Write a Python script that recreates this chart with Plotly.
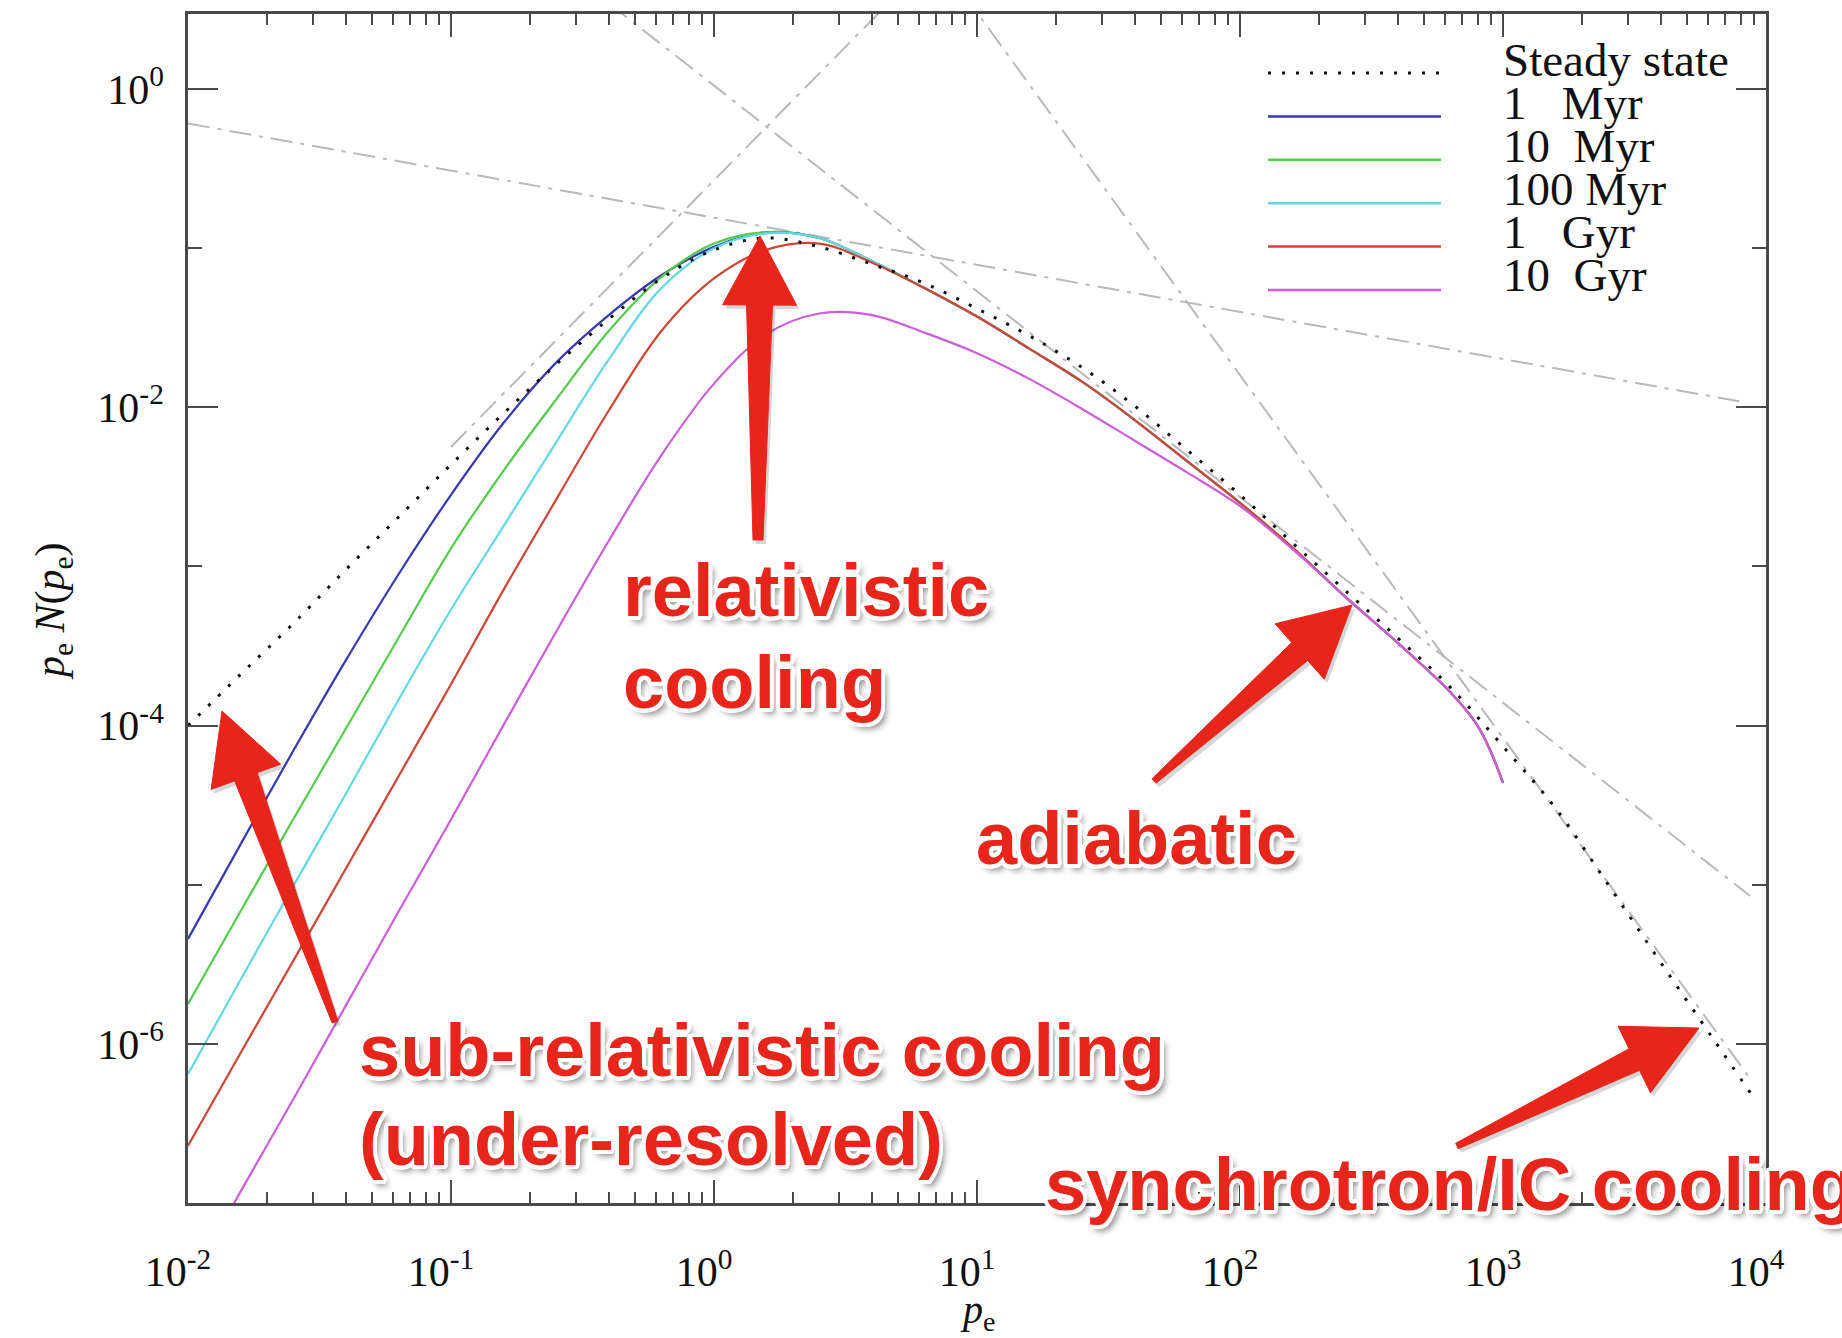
import math
import plotly.graph_objects as go

# ---------------------------------------------------------------------------
# Electron momentum spectra p_e N(p_e): steady state and time evolution
# ---------------------------------------------------------------------------

# momentum grid of the time-dependent runs
p = [0.01, 0.0158, 0.0251, 0.0398, 0.0631, 0.1, 0.158, 0.251, 0.398, 0.631,
     1.0, 1.58, 2.51, 3.98, 6.31, 10.0, 15.8, 25.1, 39.8, 63.1,
     100.0, 158.0, 251.0, 398.0, 631.0, 794.0, 891.0, 1000.0]

spec_1myr = [4.57e-6, 1.78e-5, 6.92e-5, 2.57e-4, 8.91e-4, 2.82e-3, 7.94e-3, 1.91e-2, 3.80e-2, 6.76e-2,
             0.102, 0.126, 0.116, 0.0832, 0.0562, 0.0372, 0.0234, 0.0145, 8.32e-3, 4.57e-3,
             2.51e-3, 1.32e-3, 6.46e-4, 3.31e-4, 1.62e-4, 1.02e-4, 7.08e-5, 4.37e-5]

spec_10myr = [1.78e-6, 6.76e-6, 2.57e-5, 9.55e-5, 3.55e-4, 1.30e-3, 3.98e-3, 1.12e-2, 3.02e-2, 6.61e-2,
              0.107, 0.126, 0.116, 0.0832, 0.0562, 0.0372, 0.0234, 0.0145, 8.32e-3, 4.57e-3,
              2.51e-3, 1.32e-3, 6.46e-4, 3.31e-4, 1.62e-4, 1.02e-4, 7.08e-5, 4.37e-5]

spec_100myr = [6.46e-7, 2.51e-6, 9.77e-6, 3.72e-5, 1.45e-4, 5.37e-4, 1.78e-3, 6.03e-3, 2.00e-2, 5.62e-2,
               0.100, 0.124, 0.116, 0.0832, 0.0562, 0.0372, 0.0234, 0.0145, 8.32e-3, 4.57e-3,
               2.51e-3, 1.32e-3, 6.46e-4, 3.31e-4, 1.62e-4, 1.02e-4, 7.08e-5, 4.37e-5]

spec_1gyr = [2.29e-7, 8.71e-7, 3.31e-6, 1.26e-5, 4.79e-5, 1.82e-4, 7.08e-4, 2.63e-3, 9.55e-3, 3.02e-2,
             6.46e-2, 0.0977, 0.107, 0.0813, 0.0562, 0.0372, 0.0234, 0.0145, 8.32e-3, 4.57e-3,
             2.51e-3, 1.32e-3, 6.46e-4, 3.31e-4, 1.62e-4, 1.02e-4, 7.08e-5, 4.37e-5]

spec_10gyr = [3.02e-8, 1.17e-7, 4.47e-7, 1.74e-6, 6.76e-6, 2.57e-5, 1.00e-4, 3.89e-4, 1.45e-3, 5.01e-3,
              0.0141, 0.0288, 0.0389, 0.0380, 0.0295, 0.0219, 0.0151, 9.77e-3, 6.17e-3, 3.89e-3,
              2.40e-3, 1.29e-3, 6.46e-4, 3.31e-4, 1.62e-4, 1.02e-4, 7.08e-5, 4.37e-5]

# steady-state solution
p_ss = [0.01, 0.0158, 0.0251, 0.0398, 0.0631, 0.1, 0.158, 0.251, 0.398, 0.631,
        1.0, 1.58, 2.51, 3.98, 6.31, 10.0, 15.8, 25.1, 39.8, 63.1,
        100.0, 158.0, 251.0, 398.0, 631.0, 1000.0, 1585.0, 2512.0, 3981.0, 6310.0, 8913.0]
steady = [1.00e-4, 2.09e-4, 4.37e-4, 9.55e-4, 2.04e-3, 4.37e-3, 9.12e-3, 1.86e-2, 3.59e-2, 6.46e-2,
          0.0977, 0.116, 0.102, 0.0794, 0.0603, 0.0417, 0.0282, 0.0178, 0.0102, 5.37e-3,
          2.82e-3, 1.41e-3, 7.08e-4, 3.55e-4, 1.74e-4, 7.41e-5, 3.02e-5, 1.00e-5, 3.24e-6, 1.07e-6, 4.68e-7]

# power-law asymptotes of the individual loss regimes (end points)
asym_flat_p = [0.01, 7940.0]
asym_flat = [0.608, 0.0109]
asym_sub_p = [0.1, 5.0]
asym_sub = [5.64e-3, 3.97]
asym_rel_p = [0.4, 8700.0]
asym_rel = [3.44, 8.5e-6]
asym_syn_p = [8.9, 8900.0]
asym_syn = [3.96, 5.75e-7]

series_names = ["1   Myr", "10  Myr", "100 Myr", "1   Gyr", "10  Gyr"]
series_values = [spec_1myr, spec_10myr, spec_100myr, spec_1gyr, spec_10gyr]
series_colors = ["#3838b4", "#52cc4a", "#62d9e2", "#cf4535", "#cc5ed8"]

x_ticks = [0.01, 0.1, 1, 10, 100, 1000, 10000]
x_ticktext = ["10<sup>-2</sup>", "10<sup>-1</sup>", "10<sup>0</sup>", "10<sup>1</sup>",
              "10<sup>2</sup>", "10<sup>3</sup>", "10<sup>4</sup>"]
y_ticks = [1e-6, 1e-4, 1e-2, 1]
y_ticktext = ["10<sup>-6</sup>", "10<sup>-4</sup>", "10<sup>-2</sup>", "10<sup>0</sup>"]
y_minor = [1e-7, 1e-5, 1e-3, 1e-1]
x_minor = [m * 10.0 ** e for e in range(-2, 4) for m in range(2, 10)]

# ---------------------------------------------------------------------------
W, H = 1842, 1338
L, R, T, B = 188, 1766, 14, 1203      # plot area in pixels


def px(x):
    return (x - L) / (R - L)


def py(y):
    return (B - y) / (B - T)


SERIF = "Liberation Serif, Times New Roman, serif"
AXIS_COL = "#4a4a4a"
GREY = "#b9b9b9"
RED = "#e8251b"
DASHDOT = "22px,8px,4px,8px"
DOTS = "3px,11px"

fig = go.Figure()

for xs, ys in [(asym_flat_p, asym_flat), (asym_sub_p, asym_sub),
               (asym_rel_p, asym_rel), (asym_syn_p, asym_syn)]:
    fig.add_trace(go.Scatter(x=xs, y=ys, mode="lines",
                             line=dict(color=GREY, width=2, dash=DASHDOT),
                             hoverinfo="skip"))

for name, vals, col in zip(series_names, series_values, series_colors):
    fig.add_trace(go.Scatter(x=p, y=vals, mode="lines", name=name,
                             line=dict(color=col, width=2.2, shape="spline", smoothing=1.0)))

fig.add_trace(go.Scatter(x=p_ss, y=steady, mode="lines", name="Steady state",
                         line=dict(color="#111111", width=3, dash=DOTS,
                                   shape="spline", smoothing=1.0)))

axis_common = dict(type="log", showline=True, linecolor=AXIS_COL, linewidth=2.5,
                   mirror="ticks", ticks="inside", tickcolor=AXIS_COL, tickwidth=2,
                   showgrid=False, zeroline=False,
                   tickfont=dict(family=SERIF, size=42, color="#111111"))

fig.update_xaxes(range=[-2, 4], tickvals=x_ticks, ticktext=x_ticktext, ticklen=23,
                 ticklabelstandoff=30, ticklabelshift=-10,
                 minor=dict(ticks="inside", ticklen=11, tickwidth=2, tickcolor=AXIS_COL,
                            tickvals=x_minor, showgrid=False),
                 **axis_common)
fig.update_yaxes(range=[-7, 0.472], tickvals=y_ticks, ticktext=y_ticktext, ticklen=30,
                 ticklabelstandoff=13,
                 minor=dict(ticks="inside", ticklen=14, tickwidth=2, tickcolor=AXIS_COL,
                            tickvals=y_minor, showgrid=False),
                 **axis_common)

annotations = []
shapes = []

# axis titles
annotations.append(dict(text="<i>p</i><sub>e</sub>", x=px(977), y=py(1312), xref="paper",
                        yref="paper", showarrow=False, xanchor="center", yanchor="middle",
                        font=dict(family=SERIF, size=40, color="#111111")))
annotations.append(dict(text="<i>p</i><sub>e</sub> <i>N</i>(<i>p</i><sub>e</sub>)",
                        x=px(53), y=py(611), xref="paper", yref="paper", showarrow=False,
                        textangle=-90, xanchor="center", yanchor="middle",
                        font=dict(family=SERIF, size=42, color="#111111")))

# legend drawn inside the frame, top right
legend_rows = ["Steady state"] + series_names
legend_cols = ["#111111"] + series_colors
for i, (lab, col) in enumerate(zip(legend_rows, legend_cols)):
    ty = 60 + i * 43.0
    ly = 73 + i * 43.4
    shapes.append(dict(type="line", xref="paper", yref="paper",
                       x0=px(1268), x1=px(1441), y0=py(ly), y1=py(ly),
                       line=dict(color=col, width=3 if i == 0 else 2.5,
                                 dash=DOTS if i == 0 else "solid"),
                       layer="above"))
    annotations.append(dict(text=lab.replace(" ", "\u00a0"), x=px(1501), y=py(ty),
                            xref="paper", yref="paper", showarrow=False,
                            xanchor="left", yanchor="middle",
                            font=dict(family=SERIF, size=47, color="#111111")))


# red call-out arrows
def arrow_path(tip, tail, head_len, head_half, shaft_half, tail_half, dx=0.0, dy=0.0):
    tx, ty = tip[0] + dx, tip[1] + dy
    sx, sy = tail[0] + dx, tail[1] + dy
    ln = math.hypot(tx - sx, ty - sy)
    ux, uy = (tx - sx) / ln, (ty - sy) / ln
    nx, ny = -uy, ux
    bx, by = tx - head_len * ux, ty - head_len * uy
    pts = [(tx, ty),
           (bx + head_half * nx, by + head_half * ny),
           (bx + shaft_half * nx, by + shaft_half * ny),
           (sx + tail_half * nx, sy + tail_half * ny),
           (sx - tail_half * nx, sy - tail_half * ny),
           (bx - shaft_half * nx, by - shaft_half * ny),
           (bx - head_half * nx, by - head_half * ny)]
    d = "M " + " L ".join(f"{px(a):.5f},{py(b):.5f}" for a, b in pts) + " Z"
    return d


arrows = [((222, 711), (335, 1022), 70, 37, 12, 3),
          ((760, 236), (758, 540), 69, 37, 13, 5),
          ((1352, 605), (1154, 781), 70, 37, 12, 3),
          ((1699, 1028), (1457, 1146), 72, 37, 12, 3)]
for tip, tail, hl, hh, sh, th in arrows:
    shapes.append(dict(type="path", xref="paper", yref="paper",
                       path=arrow_path(tip, tail, hl, hh, sh, th, 3, 4),
                       fillcolor="rgba(0,0,0,0.16)", line=dict(width=0), layer="above"))
    shapes.append(dict(type="path", xref="paper", yref="paper",
                       path=arrow_path(tip, tail, hl, hh, sh, th),
                       fillcolor=RED, line=dict(color=RED, width=1), layer="above"))

# outlined red labels
outline = [f"{4 * math.cos(math.radians(a)):.1f}px {4 * math.sin(math.radians(a)):.1f}px 0 #ffffff"
           for a in range(0, 360, 20)]
shadow = ", ".join(outline + ["5px 6px 6px rgba(0,0,0,0.45)"])
callouts = [("relativistic", 621, 590),
            ("cooling", 621, 682),
            ("adiabatic", 974, 838),
            ("sub-relativistic cooling", 357, 1050),
            ("(under-resolved)", 357, 1139),
            ("synchrotron/IC cooling", 1043, 1184)]
for txt, x0, yc in callouts:
    annotations.append(dict(text=txt, x=px(x0), y=py(yc), xref="paper", yref="paper",
                            showarrow=False, xanchor="left", yanchor="middle",
                            font=dict(family="Liberation Sans, Arial, sans-serif", size=74,
                                      color=RED, weight="bold", shadow=shadow)))

fig.update_layout(width=W, height=H,
                  margin=dict(l=L, r=W - R, t=T, b=H - B),
                  paper_bgcolor="white", plot_bgcolor="white",
                  showlegend=False, annotations=annotations, shapes=shapes)

fig.write_html("out.html")
